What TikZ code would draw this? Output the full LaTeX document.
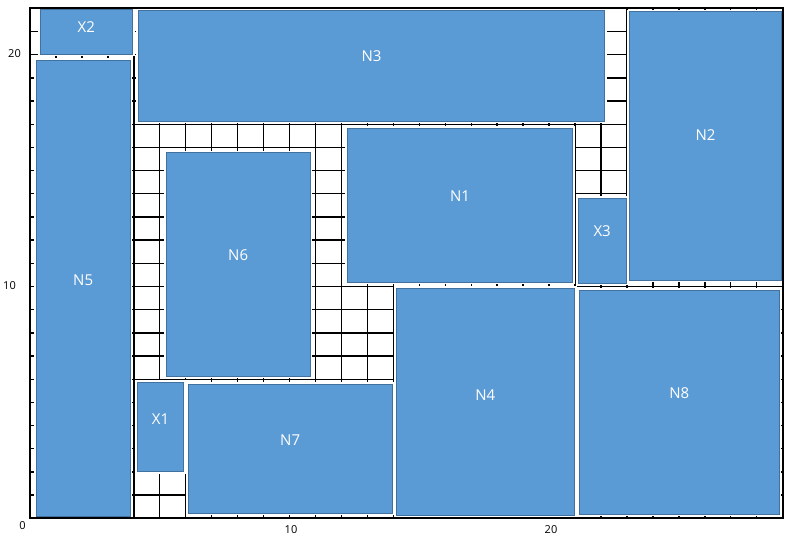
\documentclass[tikz,border=0pt]{standalone}
\usepackage{fontspec}
\setmainfont{Open Sans}
\usetikzlibrary{fit}
\definecolor{boxfill}{HTML}{5B9BD5}
\definecolor{boxedge}{HTML}{41719C}
\begin{document}
\begin{tikzpicture}[x=1pt,y=-1pt,
  gridline/.style={black, line width=1.4pt},
  frameline/.style={black, line width=1.8pt},
  box/.style={fill=boxfill, draw=boxedge, line width=0.9pt, inner sep=0pt, outer sep=0pt,
              preaction={draw=white, line width=4pt}},
  lbl/.style={text=white, font=\fontsize{15}{17}\selectfont, inner sep=0pt},
  axlbl/.style={text=black, font=\fontsize{11}{13}\selectfont, inner sep=0pt}]
\useasboundingbox (0,0) rectangle (792,539);
% grid
\foreach \i in {0,...,29} \draw[gridline] (30+25.955*\i, 8.3) -- (30+25.955*\i, 518.3);
\foreach \j in {0,...,22} \draw[gridline] (30, 518.3-23.18*\j) -- (782.8, 518.3-23.18*\j);
% boxes
\node[box, fit={(40,9) (132.7,54)}] (X2) {};
\node[box, fit={(36,60) (130.3,516.3)}] (N5) {};
\node[box, fit={(138.3,10.3) (604.7,121)}] (N3) {};
\node[box, fit={(629.3,11.7) (781.7,280.3)}] (N2) {};
\node[box, fit={(347.3,128.3) (572.7,282.3)}] (N1) {};
\node[box, fit={(578.3,198.3) (626,283.3)}] (X3) {};
\node[box, fit={(166,152.7) (310.3,376)}] (N6) {};
\node[box, fit={(579.3,290.3) (779.3,514)}] (N8) {};
\node[box, fit={(396,288.3) (574.7,515.3)}] (N4) {};
\node[box, fit={(137.3,382.3) (183.7,471.7)}] (X1) {};
\node[box, fit={(188.3,384.3) (392,513.3)}] (N7) {};
% frame
\draw[frameline] (30,8.3) rectangle (782.8,518.3);
% labels
\node[lbl] (X2t) at (X2.center |- 0,27) {X2};
\node[lbl] (N3t) at (N3.center |- 0,56) {N3};
\node[lbl] (N2t) at (N2.center |- 0,135) {N2};
\node[lbl] (N1t) at (N1.center |- 0,196) {N1};
\node[lbl] (X3t) at (X3.center |- 0,231) {X3};
\node[lbl] (N6t) at (N6.center |- 0,255.5) {N6};
\node[lbl] (N5t) at (N5.center |- 0,280) {N5};
\node[lbl] (N4t) at (N4.center |- 0,395) {N4};
\node[lbl] (N8t) at (N8.center |- 0,393) {N8};
\node[lbl] (X1t) at (X1.center |- 0,419.5) {X1};
\node[lbl] (N7t) at (N7.center |- 0,440.5) {N7};
% axis labels
\node[axlbl] (ya20) at (14.5,54) {20};
\node[axlbl] (ya10) at (9.5,285.7) {10};
\node[axlbl] (a0) at (22.5,526) {0};
\node[axlbl] (xa10) at (291,530) {10};
\node[axlbl] (xa20) at (551,530) {20};
\end{tikzpicture}
\end{document}
